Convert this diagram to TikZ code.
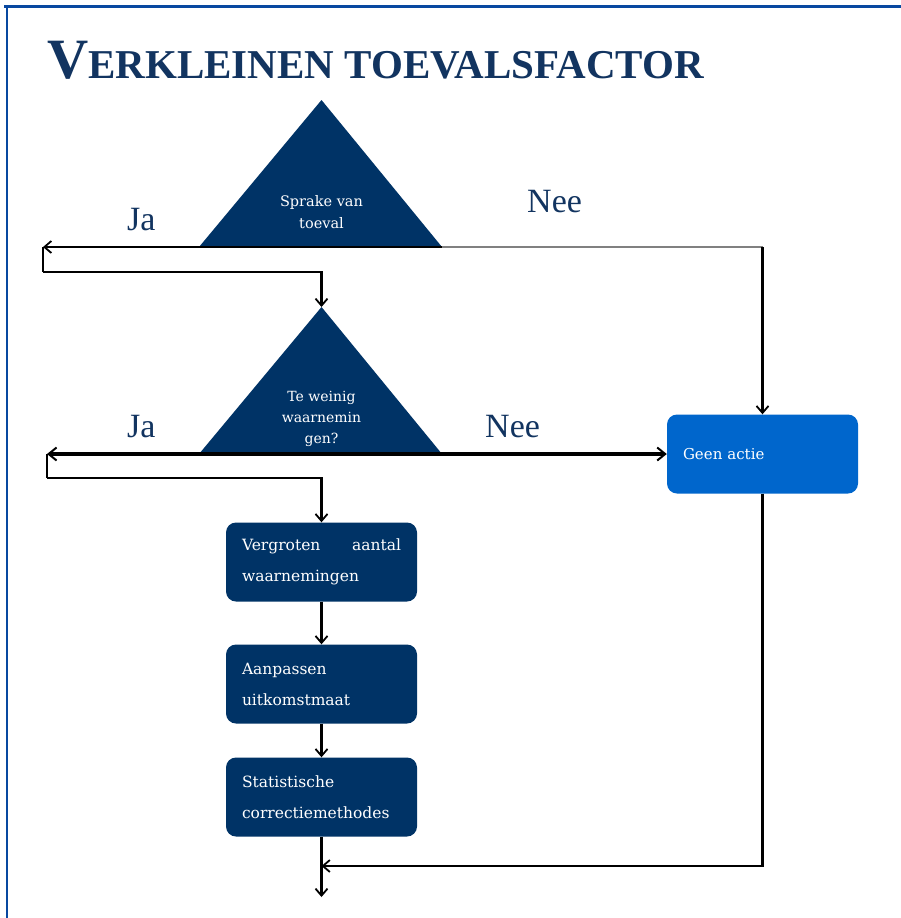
\documentclass[tikz,border=0pt]{standalone}
\usepackage{fontspec}
\setmainfont{Liberation Serif}
\newfontfamily\boxfont{DejaVu Serif}
\usetikzlibrary{arrows.meta}
\definecolor{navy}{RGB}{0,51,102}
\definecolor{brightblue}{RGB}{0,102,204}
\definecolor{titleblue}{RGB}{18,52,96}
\definecolor{framecol}{RGB}{8,72,160}
\begin{document}
\begin{tikzpicture}[x=1pt,y=-1pt,
  tip/.tip={Straight Barb[length=7pt,width=12pt,line width=1.8pt]},
  conn/.style={draw=black,line width=2.4pt,-tip},
  heavy/.style={draw=black,line width=3.6pt,-{Straight Barb[length=8pt,width=13pt,line width=2pt]}},
  plain/.style={draw=black,line width=2.4pt},
  greyline/.style={draw=black!50,line width=2.6pt},
  stepbox/.style={fill=navy,rounded corners=10pt,minimum width=191pt,minimum height=79pt,
    text width=159pt,inner xsep=16pt,inner ysep=0pt,align=left,text=white,
    font=\boxfont\fontsize{15.5}{31}\selectfont},
  endbox/.style={stepbox,fill=brightblue,font=\boxfont\fontsize{15}{31}\selectfont},
  tritext/.style={text=white,align=center,inner sep=0pt},
  lab/.style={text=titleblue,anchor=base west,inner sep=0pt,font=\fontsize{34}{34}\selectfont},
]
\useasboundingbox (0,0) rectangle (901,918);
\fill[white] (0,0) rectangle (901,918);

% frame lines along the top and left edges
\draw[framecol,line width=3pt] (4,6) -- (901,6);
\draw[framecol,line width=2.4pt] (7,6) -- (7,918);

% title in small capitals
\node[anchor=base west,inner sep=0pt,text=titleblue,font=\bfseries] (title) at (47,78)
  {\fontsize{57}{57}\selectfont V\fontsize{41}{41}\selectfont ERKLEINEN TOEVALSFACTOR};

% decision triangles
\coordinate (t1a) at (321.5,100);
\coordinate (t1l) at (199,247);
\coordinate (t1r) at (442,247);
\coordinate (t2a) at (321.5,307);
\coordinate (t2l) at (199,454);
\coordinate (t2r) at (442,454);
\fill[navy] (t1l) -- (t1a) -- (t1r) -- cycle;
\fill[navy] (t2l) -- (t2a) -- (t2r) -- cycle;
\node[tritext,font=\boxfont\fontsize{14.5}{22}\selectfont] (q1) at (321.5,212) {Sprake van\\toeval};
\node[tritext,font=\boxfont\fontsize{14}{21}\selectfont] (q2) at (321.5,419) {Te weinig\\waarnemin\\gen?};

% action boxes
\node[stepbox] (box1) at (321.5,562) {Vergroten\hfill aantal\\waarnemingen};
\node[stepbox] (box2) at (321.5,684) {Aanpassen\\uitkomstmaat};
\node[stepbox] (box3) at (321.5,797) {Statistische\\correctiemethodes};
\node[endbox] (geen) at (762.5,454) {Geen actie};

% branch labels
\node[lab] (ja1) at (127,230) {Ja};
\node[lab] (nee1) at (527,212) {Nee};
\node[lab] (ja2) at (127,437) {Ja};
\node[lab] (nee2) at (485,437) {Nee};

% connector points
\coordinate (j1) at (43,247);
\coordinate (k1) at (43,272);
\coordinate (c1) at (762.5,247);
\coordinate (j2) at (47,454);
\coordinate (k2) at (47,478);
\coordinate (merge) at (321.5,866);
\coordinate (out) at (321.5,897);

% connectors
\draw[conn] (t1r) -- (j1);
\draw[plain] (j1) -- (k1);
\draw[conn] (k1) -| (t2a);
\draw[greyline] (t1r) -- (c1);
\draw[conn] (c1) -- (geen.north);
\draw[heavy] (t2r) -- (j2);
\draw[heavy] (t2r) -- (geen.west);
\draw[plain] (j2) -- (k2);
\draw[conn] (k2) -| (box1.north);
\draw[conn] (box1) -- (box2);
\draw[conn] (box2) -- (box3);
\draw[conn] (box3) -- (out);
\draw[conn] (geen.south) |- (merge);
\end{tikzpicture}
\end{document}
